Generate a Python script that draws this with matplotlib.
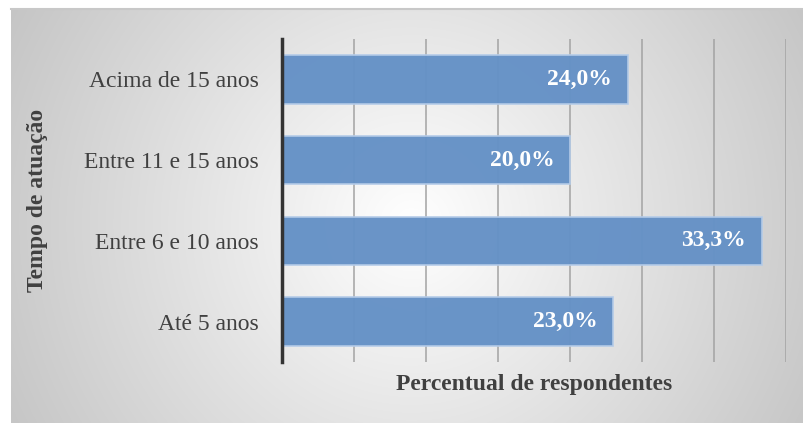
import numpy as np
import matplotlib
matplotlib.use("Agg")
import matplotlib.pyplot as plt

plt.rcParams['font.family'] = ['Liberation Serif', 'DejaVu Serif']

categorias = ['Até 5 anos', 'Entre 6 e 10 anos', 'Entre 11 e 15 anos', 'Acima de 15 anos']
percentuais = [23.0, 33.3, 20.0, 24.0]
rotulos = ['23,0%', '33,3%', '20,0%', '24,0%']

W, H, DPI = 804, 423, 100
fig = plt.figure(figsize=(W / DPI, H / DPI), dpi=DPI)
fig.patch.set_facecolor('white')

# painel de fundo com degradê radial
bg = fig.add_axes([11 / W, 0, 1 - 11 / W, 1 - 9 / H], zorder=-5)
ny, nx = 414, 793
yy, xx = np.mgrid[0:ny, 0:nx]
d = np.sqrt(((xx - 400) / 400.0) ** 2 + ((yy - 215) / 400.0) ** 2)
val = 1 - 0.2 * np.clip(d, 0, 1.25)
img = np.dstack([val, val, val])
bg.imshow(img, aspect='auto', extent=(0, 1, 0, 1), origin='upper')
bg.set_xlim(0, 1)
bg.set_ylim(0, 1)
bg.axis('off')
bg.plot([0, 1], [1, 1], color='#c8c8c8', lw=1.5, clip_on=False)

ax = fig.add_axes([282 / W, 1 - 362 / H, (786 - 282) / W, (362 - 39) / H])
ax.set_facecolor('none')

y = np.arange(len(categorias))
bars = ax.barh(y, percentuais, height=0.6, color='#6591c6', edgecolor='#b4cbe8',
               linewidth=1.2, alpha=0.97, zorder=3)

for b, txt in zip(bars, rotulos):
    ax.annotate(txt, (b.get_width(), b.get_y() + b.get_height() / 2),
                xytext=(-11, 0), textcoords='offset points', ha='right', va='center',
                color='white', fontsize=17, fontweight='bold', zorder=4)

ax.set_xlim(0, 35)
ax.set_ylim(-0.5, 3.5)
ax.set_xticks(np.arange(5, 36, 5))
ax.set_xticklabels([])
ax.tick_params(axis='x', length=0)
ax.xaxis.grid(True, color='#a3a3a3', lw=1.1, zorder=1)
ax.set_axisbelow(True)

ax.set_yticks(y)
ax.set_yticklabels(categorias, fontsize=17, color='#404040')
ax.tick_params(axis='y', length=0, pad=17)

for s in ['top', 'right', 'bottom']:
    ax.spines[s].set_visible(False)
ax.spines['left'].set_color('#333333')
ax.spines['left'].set_linewidth(2.5)
ax.spines['left'].set_zorder(5)

ax.set_xlabel('Percentual de respondentes', fontsize=17, fontweight='bold',
              color='#404040', labelpad=5)
fig.text(38 / W, 1 - 200 / H, 'Tempo de atuação', rotation=90, fontsize=17,
         fontweight='bold', color='#404040', ha='center', va='center')

fig.savefig('out.png', dpi=DPI)
